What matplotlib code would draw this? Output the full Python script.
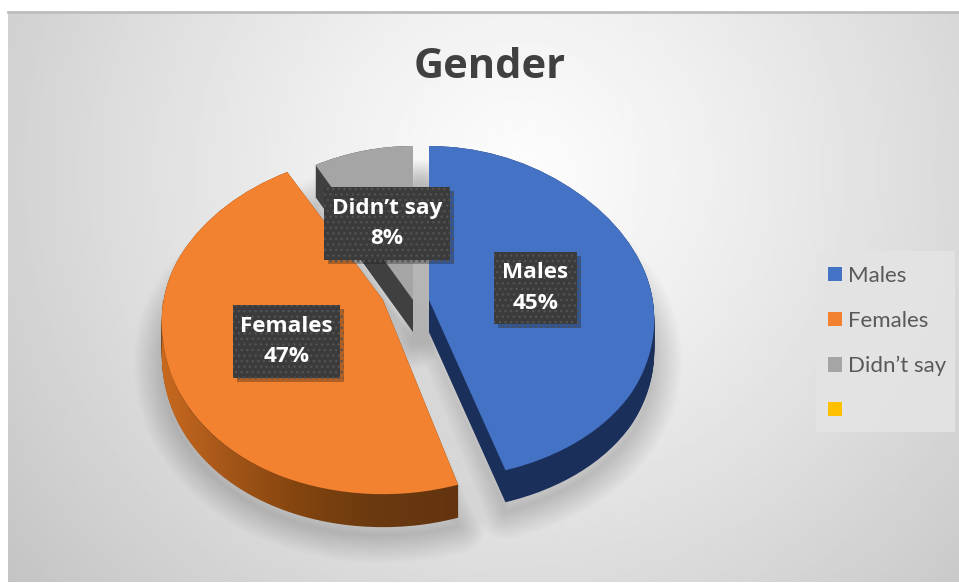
"""3D style pie chart of respondents by gender."""

import matplotlib

matplotlib.use("Agg")

import matplotlib.pyplot as plt
import numpy as np
from matplotlib.colors import LinearSegmentedColormap
from matplotlib.patches import Patch, PathPatch, Rectangle, Wedge
from matplotlib.path import Path
from matplotlib.transforms import Transform
import matplotlib.patheffects as pe

categories = ["Males", "Females", "Didn’t say", ""]
shares = [45, 47, 8, 0]
colors = ["#4472C4", "#F28130", "#A5A5A5", "#FFC000"]
wall_colors = ["#1B2F5B", "#6B3A10", "#404040", "#FFC000"]

# where each slice apex sits on the slide and how far the front half stretches
APEX_X = [429, 383, 413]
APEX_Y = 300
RADIUS_X = [224, 220, 224]
RADIUS_Y = [154, 146, 154]
FRONT = [179 / 154, 1.33, 1.0]
DEPTH = 32


class Tilt(Transform):
    """Maps the flat unit pie onto the slide with a bit of perspective."""

    input_dims = 2
    output_dims = 2

    def __init__(self, i, shift=0):
        super().__init__()
        self.i, self.shift = i, shift

    def transform_non_affine(self, values):
        u, v = np.asarray(values).T
        x = APEX_X[self.i] + RADIUS_X[self.i] * u * (1 - 0.11 * v)
        y = APEX_Y + self.shift - RADIUS_Y[self.i] * v * np.where(v < 0, FRONT[self.i], 1.0)
        return np.column_stack([x, y])


fig = plt.figure(figsize=(9.59, 5.83), dpi=100, facecolor="white")
ax = fig.add_axes([0, 0, 1, 1])

wedges, _ = ax.pie(shares, colors=colors, startangle=90, counterclock=False)

# slide background, white in the upper middle and grey to the corners
yy, xx = np.mgrid[12:582:2, 8:959:2]
t = np.hypot((xx - 520) / 560, (yy - 170) / 550)
ax.imshow(252 - 46 * t**1.2, cmap="gray", vmin=0, vmax=255, extent=(8, 959, 582, 12), zorder=0)
ax.plot([8, 959], [11.5, 11.5], color="#BDBDBD", lw=2, zorder=1)

for i in [2, 1, 0]:
    tilt = Tilt(i, DEPTH + 9) + ax.transData
    for lw in np.linspace(40, 2, 14):
        ax.add_patch(Wedge((0, 0), 1, wedges[i].theta1, wedges[i].theta2, facecolor="none",
                           edgecolor="black", alpha=0.012, lw=lw, joinstyle="round",
                           transform=tilt, zorder=2))

base_z = 3
for i in [2, 1, 0]:
    for d in range(DEPTH + 1):
        ax.add_patch(Wedge((0, 0), 1, wedges[i].theta1, wedges[i].theta2,
                           facecolor=wall_colors[i], edgecolor="none",
                           transform=Tilt(i, d) + ax.transData, zorder=base_z))

    if i == 1:
        # front wall of the orange slice fades from light to dark
        angles = np.radians(np.linspace(wedges[1].theta2, -180, 80))
        arc = np.column_stack([np.cos(angles), np.sin(angles)])
        top = Tilt(1).transform(arc)
        low = Tilt(1, DEPTH + 1).transform(arc)
        outline = np.vstack([top, low[::-1], top[:1]])
        clip = PathPatch(Path(outline), transform=ax.transData, facecolor="none", edgecolor="none")
        ramp = LinearSegmentedColormap.from_list(
            "wall", [(0, "#C8691E"), (0.2, "#A8581A"), (0.45, "#85450F"), (0.7, "#6B3A10"), (1, "#63340F")])
        img = ax.imshow(np.linspace(0, 1, 200)[None, :], cmap=ramp, aspect="auto",
                        extent=(160, 460, 530, 290), zorder=base_z + 0.1)
        ax.add_patch(clip)
        img.set_clip_path(clip)

    wedges[i].set_transform(Tilt(i) + ax.transData)
    wedges[i].set_zorder(base_z + 0.2)
    base_z += 1

# data labels
boxes = [(494, 252, 83, 72), (233, 305, 107, 73), (324, 187, 126, 73)]
for i, (x0, y0, w, h) in enumerate(boxes):
    ax.add_patch(Rectangle((x0, y0), w, h, facecolor="#3B3B3B", edgecolor="#525252", hatch="...", lw=0,
                           zorder=10, path_effects=[pe.SimplePatchShadow(offset=(3, -3), alpha=0.3), pe.Normal()]))
    ax.text(x0 + w / 2, y0 + h / 2, f"{categories[i]}\n{shares[i]}%", color="white", fontsize=16.2,
            family="Open Sans", weight="bold", ha="center", va="center", linespacing=1.58, zorder=11)

ax.text(490, 67, "Gender", color="#404040", fontsize=30, family="Open Sans", weight="bold",
        ha="center", va="center", zorder=11)

# legend panel sits behind an unframed legend
ax.add_patch(Rectangle((816, 251), 139, 181, facecolor="#E4E4E4", edgecolor="none", alpha=0.9, zorder=11))
handles = [Patch(facecolor=c, edgecolor="none") for c in colors]
legend = ax.legend(handles, categories, loc="upper left", bbox_to_anchor=(828, 266),
                   bbox_transform=ax.transData, borderaxespad=0, borderpad=0, frameon=False,
                   prop={"family": "Lato", "size": 16}, labelcolor="#595959",
                   handlelength=0.62, handleheight=0.62, handletextpad=0.28, labelspacing=1.12)
legend.set_zorder(12)

ax.set_aspect("auto")
ax.set_xlim(0, 959)
ax.set_ylim(583, 0)
ax.axis("off")

fig.savefig("out.png", dpi=100, facecolor="white")
